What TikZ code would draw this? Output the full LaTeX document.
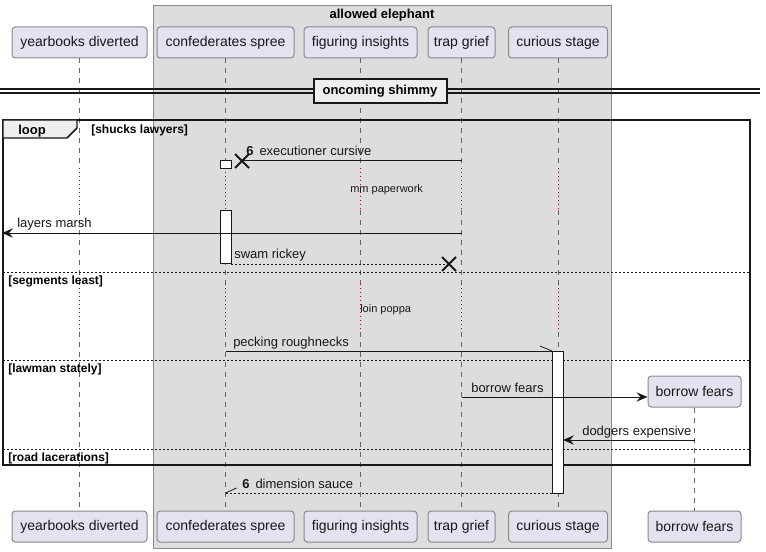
\documentclass[tikz,border=0pt]{standalone}
\usepackage{fontspec}
\setmainfont{Liberation Sans}
\usetikzlibrary{arrows.meta,calc}
\definecolor{partfill}{HTML}{E2E2F0}
\definecolor{partdraw}{HTML}{181818}
\definecolor{partedge}{HTML}{8A8A8A}
\definecolor{boxfill}{HTML}{DDDDDD}
\definecolor{boxdraw}{HTML}{8A8A8A}
\definecolor{lifegray}{HTML}{666666}
\definecolor{delayred}{HTML}{A80036}
\definecolor{tabfill}{HTML}{EEEEEE}
\begin{document}
\begin{tikzpicture}[x=0.75pt,y=-0.75pt,
  part/.style={draw=partedge, line width=0.75pt, fill=partfill, rounded corners=2.5pt,
    minimum height=23.25pt, inner sep=0pt, font=\fontsize{10.5}{12}\selectfont, text=partdraw},
  lifeline/.style={draw=lifegray, line width=0.6pt, dash pattern=on 3.75pt off 3.75pt},
  delayline/.style={draw=delayred, line width=0.75pt, dash pattern=on 0.75pt off 2.25pt},
  msg/.style={draw=partdraw, line width=0.75pt},
  rmsg/.style={msg, dash pattern=on 1.5pt off 1.5pt},
  tipfull/.style={-{Stealth[length=8.25pt,width=7pt,inset=3pt]}},
  mtext/.style={font=\fontsize{9.75}{11}\selectfont, inner sep=0pt, anchor=base west, text=partdraw},
  dtext/.style={font=\fontsize{8.25}{10}\selectfont, inner sep=0pt, anchor=base west, text=partdraw},
  gtext/.style={font=\bfseries\fontsize{9}{11}\selectfont, inner sep=0pt, anchor=base west},
  sepline/.style={draw=partdraw, line width=0.75pt, dash pattern=on 1.5pt off 1.5pt},
  actbox/.style={draw=partdraw, line width=0.75pt, fill=white},
  xmark/.style={draw=partdraw, line width=1.5pt}
]
\useasboundingbox (0,0) rectangle (766,552);
\fill[white] (0,0) rectangle (766,552);

% box "allowed elephant"
\node[draw=boxdraw, fill=boxfill, line width=0.75pt, minimum width=343.5pt, minimum height=406.5pt, inner sep=0pt] (elephant) at (382,277) {};
\node[font=\bfseries\fontsize{9.75}{11}\selectfont, inner sep=0pt, anchor=base] (eltitle) at (382,19) {allowed elephant};

% participants (top)
\node[part, minimum width=101.25pt] (ydT) at (79.5,42.5) {yearbooks diverted};
\node[part, minimum width=102.75pt] (csT) at (225.5,42.5) {confederates spree};
\node[part, minimum width=84.75pt] (fiT) at (360.5,42.5) {figuring insights};
\node[part, minimum width=50.25pt] (tgT) at (461.5,42.5) {trap grief};
\node[part, minimum width=74.25pt] (cuT) at (558,42.5) {curious stage};
% participants (bottom)
\node[part, minimum width=101.25pt] (ydB) at (79.5,526.5) {yearbooks diverted};
\node[part, minimum width=102.75pt] (csB) at (225.5,526.5) {confederates spree};
\node[part, minimum width=84.75pt] (fiB) at (360.5,526.5) {figuring insights};
\node[part, minimum width=50.25pt] (tgB) at (461.5,526.5) {trap grief};
\node[part, minimum width=74.25pt] (cuB) at (558,526.5) {curious stage};
\node[part, minimum width=69.75pt] (bfB) at (694.5,526.5) {borrow fears};

% delay levels
\coordinate (d1a) at (0,168);
\coordinate (d1b) at (0,210);
\coordinate (d2a) at (0,284);
\coordinate (d2b) at (0,332);

% lifelines
\foreach \n in {yd,cs,fi,tg,cu} {
  \draw[lifeline] (\n T.south) -- (\n T.south |- d1a);
  \draw[delayline] (\n T.south |- d1a) -- (\n T.south |- d1b);
  \draw[lifeline] (\n T.south |- d1b) -- (\n T.south |- d2a);
  \draw[delayline] (\n T.south |- d2a) -- (\n T.south |- d2b);
  \draw[lifeline] (\n T.south |- d2b) -- (\n B.north);
}

% created participant
\node[part, minimum width=69.75pt] (bfC) at (694.5,391.5) {borrow fears};
\draw[lifeline] (bfC.south) -- (bfB.north);

% divider "oncoming shimmy"
\coordinate (dvl1) at (0,89); \coordinate (dvr1) at (760,89);
\coordinate (dvl2) at (0,93); \coordinate (dvr2) at (760,93);
\draw[draw=partdraw, line width=0.9pt] (dvl1) -- (dvr1) (dvl2) -- (dvr2);
\node[draw=partdraw, line width=1.5pt, fill=tabfill, minimum width=99.75pt, minimum height=18pt, inner sep=0pt,
  font=\bfseries\fontsize{9.75}{11}\selectfont] (divider) at (380,91) {oncoming shimmy};

% loop frame
\draw[draw=partdraw, line width=1.5pt] (3,120) rectangle (750,465);
\draw[draw=partdraw, line width=1.1pt, fill=tabfill] (3,120) -- (77,120) -- (77,128) -- (67,138) -- (3,138) -- cycle;
\node[font=\bfseries\fontsize{9.75}{11}\selectfont, inner sep=0pt, anchor=base west] (looplbl) at (18,134.5) {loop};
\node[gtext] (g1) at (91,134) {[shucks lawyers]};
\draw[sepline] (3,272) -- (750,272);
\node[gtext] (g2) at (8,284) {[segments least]};
\draw[sepline] (3,360) -- (750,360);
\node[gtext] (g3) at (8,372) {[lawman stately]};
\draw[sepline] (3,449) -- (750,449);
\node[gtext] (g4) at (8,461) {[road lacerations]};

% activations
\draw[actbox] (220,161) rectangle (231,169);
\draw[actbox] (220,210) rectangle (231,263);
\draw[actbox] (552,351) rectangle (563,493);

% message 1: executioner cursive (destroy)
\coordinate (m1s) at (461.5,161);
\coordinate (m1e) at (242,161);
\draw[msg] (m1s) -- (m1e);
\draw[xmark] ($(m1e)+(-7,-7)$) -- ($(m1e)+(7,7)$) ($(m1e)+(-7,7)$) -- ($(m1e)+(7,-7)$);
\node[mtext] (t1) at (246,156) {\textbf{6}\hspace{4.5pt}executioner cursive};

% delay 1
\node[dtext] (dl1) at (350,193) {mm paperwork};

% message 2: layers marsh
\coordinate (m2s) at (461.5,233);
\coordinate (m2e) at (2,233);
\draw[msg, tipfull] (m2s) -- (m2e);
\node[mtext] (t2) at (17,228) {layers marsh};

% message 3: swam rickey
\coordinate (m3s) at (231,264);
\coordinate (m3e) at (449,264);
\draw[rmsg] (m3s) -- (m3e);
\draw[xmark] ($(m3e)+(-7,-7)$) -- ($(m3e)+(7,7)$) ($(m3e)+(-7,7)$) -- ($(m3e)+(7,-7)$);
\node[mtext] (t3) at (234,258) {swam rickey};

% delay 2
\node[dtext] (dl2) at (360,312) {loin poppa};

% message 4: pecking roughnecks
\coordinate (m4s) at (225.5,351);
\coordinate (m4e) at (552,351);
\draw[msg] (m4s) -- (m4e);
\draw[msg, line width=0.6pt] (m4e) -- ($(m4e)+(-12,-5)$);
\node[mtext] (t4) at (233,346) {pecking roughnecks};

% message 5: borrow fears (create)
\coordinate (m5s) at (461.5,397);
\draw[msg, tipfull] (m5s) -- (bfC.west |- m5s);
\node[mtext] (t5) at (471,392) {borrow fears};

% message 6: dodgers expensive
\coordinate (m6s) at (694.5,440);
\coordinate (m6e) at (563,440);
\draw[msg, tipfull] (m6s) -- (m6e);
\node[mtext] (t6) at (582,435) {dodgers expensive};

% message 7: dimension sauce
\coordinate (m7s) at (552,493);
\coordinate (m7e) at (225.5,493);
\draw[rmsg] (m7s) -- (m7e);
\draw[msg, line width=0.6pt] (m7e) -- ($(m7e)+(11,-5)$);
\node[mtext] (t7) at (242,488) {\textbf{6}\hspace{4.5pt}dimension sauce};
\end{tikzpicture}
\end{document}
